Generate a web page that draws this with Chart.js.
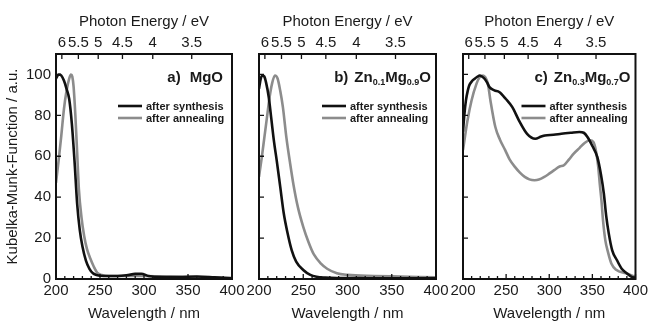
<!DOCTYPE html>
<html><head><meta charset="utf-8">
<script src="https://cdn.jsdelivr.net/npm/chart.js@4.4.1/dist/chart.umd.min.js"></script>
<style>
html,body{margin:0;padding:0;background:#fff;}
#wrap{position:relative;width:651px;height:322px;overflow:hidden;background:#fff;}
#wrap canvas{position:absolute;left:0;top:0;}
</style></head><body>
<div id="wrap">
<canvas id="ca" width="651" height="322"></canvas>
<canvas id="cb" width="651" height="322"></canvas>
<canvas id="cc" width="651" height="322"></canvas>
</div>
<script>
// ---- tick labels / axis data ----
const wavelengthLabels = [200, 250, 300, 350, 400];
const energyTicks = [6, 5.5, 5, 4.5, 4, 3.5];
const yTickValues = [0, 20, 40, 60, 80, 100];
const legendLabels = ['after synthesis', 'after annealing'];

// ---- a) MgO ----
const mgoSynthWl = [200,203,206,209,212,215,218,221,224,227,230,234,238,242,246,250,260,270,280,290,297,305,320,340,360,380,400];
const mgoSynthKm = [98,100,99.5,97,93,88,76,58,37,24,16,9,5,2.8,2,1.6,1.5,1.5,1.8,2.5,2.6,1.5,1,1,1.2,0.8,0.3];
const mgoAnnealWl = [200,203,206,209,212,215,217,218.5,220,222,224,226,229,232,235,239,243,247,252,260,280,300,330,360,400];
const mgoAnnealKm = [47,58,70,83,92,98,100,99,94,80,62,44,30,21,15,10,6,3,2,1.5,1.5,1.5,1.2,1,0.5];

// ---- b) Zn0.1Mg0.9O ----
const zn01SynthWl = [200,202,204,206,208,211,214,217,220,224,228,232,237,242,250,258,265,275,290,320,360,400];
const zn01SynthKm = [93,98,99.5,99,96,89,78,67,58,45,32,23,14,8.5,4.4,2,1.1,0.7,0.5,0.4,0.3,0.3];
const zn01AnnealWl = [200,203,206,209,212,215,218,221,224,227,231,235,239,244,250,256,262,270,277,288,300,330,360,400];
const zn01AnnealKm = [50,59,69,79,89,96,99.5,98,92,84,69,57,46,35,25.5,18,12,7.5,5,2.8,2,1.5,1.2,0.8];

// ---- c) Zn0.3Mg0.7O ----
const zn03SynthWl = [200,201.5,203.4,205.5,207.2,210,213.6,217,219.3,222,225,228,230.7,236.4,242,249.7,257.2,264.8,274.3,283.8,290,295,305,314,325,334.9,340,344.3,350,355.7,360,363.3,366,369,373,378.4,384,389.8,395,400];
const zn03SynthKm = [72,80,87.3,92,94.6,96.5,97.9,99,99.5,99,97.9,96,93.8,92.2,91.4,88,84,77.6,71,68.6,69.5,70.2,70.5,71,71.5,71.9,71.5,69.4,65,59.7,51,41.8,31,22.3,14,9.3,5,2.8,1.2,0.5];
const zn03AnnealWl = [200,205,209.9,215.6,219,223.2,226,228.9,231.8,237.5,243,248.9,254,260.2,266,271.6,277,283,288,294.3,300,305.7,312,317,323,328.4,335,341,347.3,351.1,354,356.8,358.7,360.5,362.5,365,368.2,372,377.6,389,400];
const zn03AnnealKm = [63,77,87.3,95.4,98.5,99.5,98.5,95.4,87.3,74.3,68,63,58.5,54.8,52,49.9,48.7,48.3,48.6,49.9,51.5,53.2,55,55.6,58.5,61.3,64,66.5,67.8,67,63,54.8,46,38.5,28,19,13,7.6,4.5,2.8,1,0.5];

const BLACK = '#111111', GRAY = '#8c8c8c', TEXT = '#1a1a1a';
const FONT = "'Liberation Sans', Arial, Helvetica, sans-serif";
Chart.defaults.font.family = FONT;
Chart.defaults.color = TEXT;

function pts(xs, ys){ return xs.map((x,i)=>({x:x, y:ys[i]})); }

const panels = [
  {id:'ca', left:56, right:232, showY:true, label:[['a)',false],['MgO',false]], labelInset:9, gap:9,
   synth:pts(mgoSynthWl,mgoSynthKm), anneal:pts(mgoAnnealWl,mgoAnnealKm)},
  {id:'cb', left:259, right:436, showY:false, label:[['b)',false],['Zn',false],['0.1',true],['Mg',false],['0.9',true],['O',false]], labelInset:5, gap:6,
   synth:pts(zn01SynthWl,zn01SynthKm), anneal:pts(zn01AnnealWl,zn01AnnealKm)},
  {id:'cc', left:463, right:639, showY:false, label:[['c)',false],['Zn',false],['0.3',true],['Mg',false],['0.7',true],['O',false]], labelInset:5, gap:6,
   synth:pts(zn03SynthWl,zn03SynthKm), anneal:pts(zn03AnnealWl,zn03AnnealKm)}
];
const TOP = 54, BOTTOM = 279, W = 651, H = 322;

const framePlugin = {
  id:'frameTicks',
  afterDatasetsDraw(chart, args, opts){
    const ctx = chart.ctx, a = chart.chartArea, x = chart.scales.x, x2 = chart.scales.x2, y = chart.scales.y;
    ctx.save();
    ctx.strokeStyle = BLACK; ctx.lineWidth = 1.3;
    ctx.beginPath();
    x.ticks.forEach(t=>{ const p = x.getPixelForValue(t.value); const len = (t.value % 50 === 0) ? 5 : 3;
      ctx.moveTo(p, a.bottom); ctx.lineTo(p, a.bottom - len); });
    x2.ticks.forEach(t=>{ const p = x2.getPixelForValue(t.value);
      ctx.moveTo(p, a.top); ctx.lineTo(p, a.top + 5); });
    y.ticks.forEach(t=>{ const p = y.getPixelForValue(t.value);
      ctx.moveTo(a.left, p); ctx.lineTo(a.left + 5, p); });
    ctx.stroke();
    ctx.lineWidth = 2;
    ctx.strokeRect(a.left, a.top, a.right - a.left, a.bottom - a.top);
    // legend
    const ds = chart.data.datasets;
    const rows = [106, 118];
    ds.forEach((d,i)=>{
      ctx.strokeStyle = d.borderColor; ctx.lineWidth = 2.6;
      ctx.beginPath(); ctx.moveTo(a.right - 114, rows[i]); ctx.lineTo(a.right - 90, rows[i]); ctx.stroke();
      ctx.fillStyle = TEXT; ctx.font = "bold 11px " + FONT; ctx.textBaseline = 'middle'; ctx.textAlign = 'left';
      ctx.fillText(d.label, a.right - 86, rows[i] + 0.5);
    });
    // panel label
    const parts = opts.label;
    const big = "bold 15px " + FONT, small = "bold 9px " + FONT;
    let widths = parts.map((p,i)=>{ ctx.font = p[1] ? small : big; return ctx.measureText(p[0]).width + (i===0 ? opts.gap : 0); });
    let total = widths.reduce((s,v)=>s+v,0);
    let cx = a.right - opts.inset - total;
    ctx.textBaseline = 'alphabetic'; ctx.textAlign = 'left'; ctx.fillStyle = TEXT;
    parts.forEach((p,i)=>{ ctx.font = p[1] ? small : big; ctx.fillText(p[0], cx, p[1] ? 84.5 : 81.5); cx += widths[i]; });
    ctx.restore();
  }
};

panels.forEach(p=>{
  new Chart(document.getElementById(p.id), {
    type:'line',
    data:{ datasets:[
      {label:legendLabels[0], data:p.synth, borderColor:BLACK, borderWidth:2.6, pointRadius:0, cubicInterpolationMode:'monotone', order:1},
      {label:legendLabels[1], data:p.anneal, borderColor:GRAY, borderWidth:2.6, pointRadius:0, cubicInterpolationMode:'monotone', order:2}
    ]},
    options:{
      responsive:false, animation:false, events:[],
      layout:{padding:{left: p.showY ? 0 : p.left, right: W - p.right, top:0, bottom:0}},
      plugins:{legend:{display:false}, tooltip:{enabled:false},
        frameTicks:{label:p.label, inset:p.labelInset, gap:p.gap}},
      scales:{
        x:{type:'linear', position:'bottom', min:200, max:400,
          grid:{display:false, drawTicks:false}, border:{display:false},
          afterBuildTicks:s=>{ const t=[]; for(let v=200; v<=400; v+=10) t.push({value:v}); s.ticks=t; },
          ticks:{autoSkip:false, maxRotation:0, padding:3, font:{size:15}, color:TEXT,
            callback:(v)=> wavelengthLabels.includes(v) ? String(v) : ''},
          title:{display:true, text:'Wavelength / nm', font:{size:15}, color:TEXT, padding:{top:0,bottom:-1}},
          afterFit:s=>{ s.height = H - BOTTOM; }
        },
        x2:{type:'linear', axis:'x', position:'top', min:200, max:400,
          grid:{display:false, drawTicks:false}, border:{display:false},
          afterBuildTicks:s=>{ s.ticks = energyTicks.map(e=>({value:1239.84/e})); },
          ticks:{autoSkip:false, maxRotation:0, padding:2, font:{size:15}, color:TEXT,
            callback:(v,i)=> String(energyTicks[i])},
          title:{display:true, text:'Photon Energy / eV', font:{size:15}, color:TEXT, padding:{top:13,bottom:0}},
          afterFit:s=>{ s.height = TOP; }
        },
        y:{type:'linear', position:'left', min:0, max:110,
          grid:{display:false, drawTicks:false}, border:{display:false},
          afterBuildTicks:s=>{ s.ticks = yTickValues.map(v=>({value:v})); },
          ticks:{display:p.showY, padding:5, font:{size:15}, color:TEXT},
          title:{display:p.showY, text:'Kubelka-Munk-Function / a.u.', font:{size:15}, color:TEXT, padding:{top:4,bottom:0}},
          afterFit:s=>{ s.width = p.showY ? p.left : 0; }
        }
      }
    },
    plugins:[framePlugin]
  });
});
</script>
</body></html>
